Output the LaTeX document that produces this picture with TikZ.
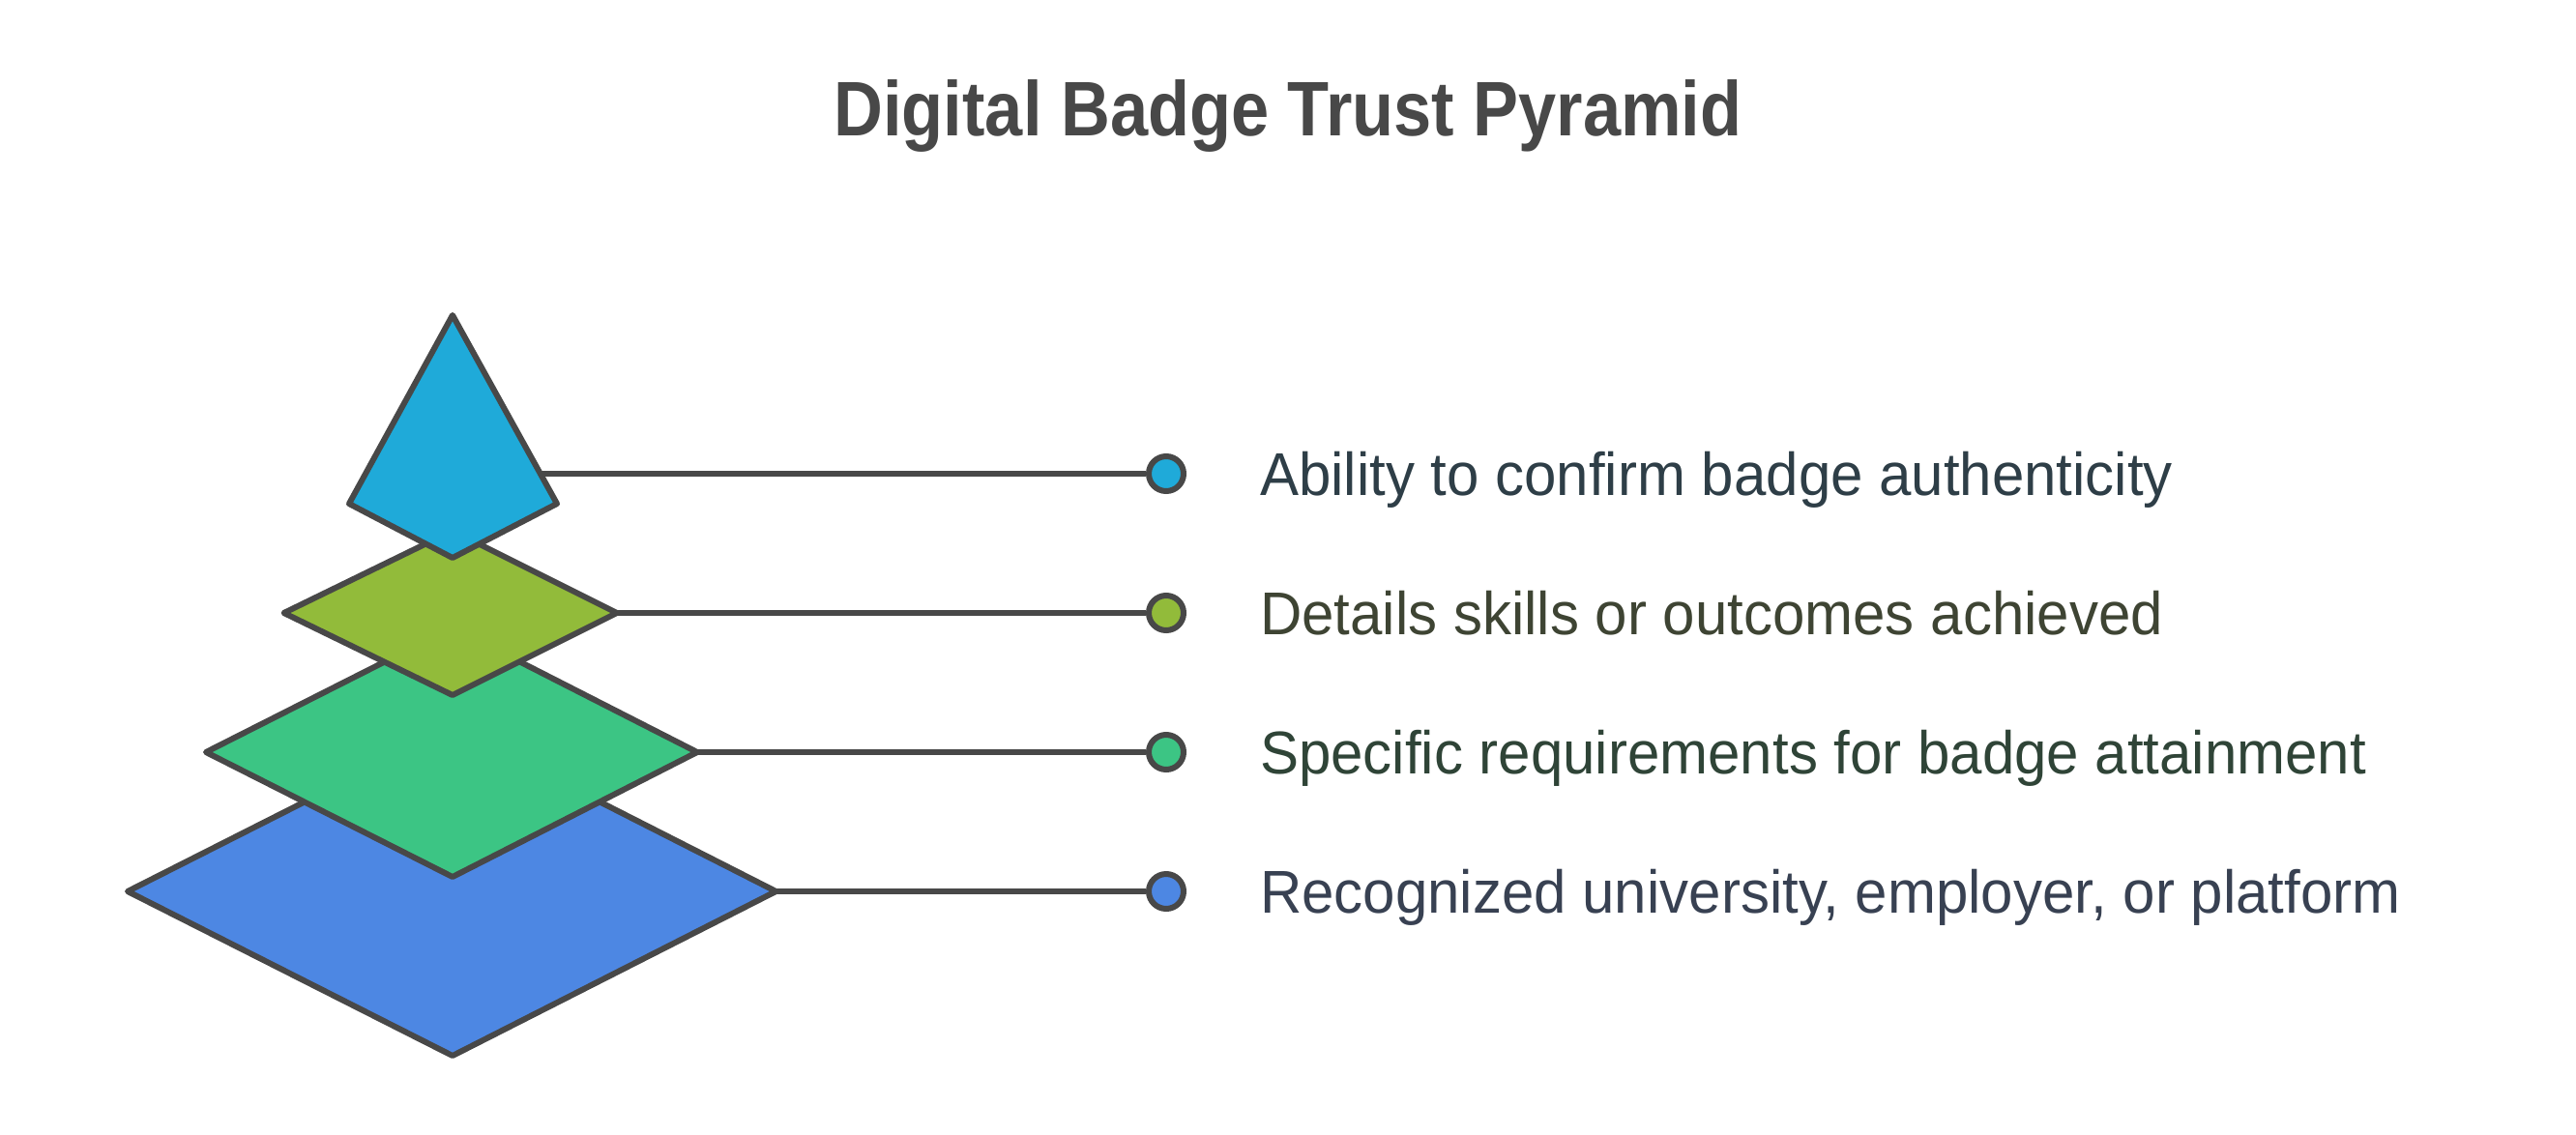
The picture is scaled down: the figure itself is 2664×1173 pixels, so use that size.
\documentclass[tikz,border=0pt]{standalone}
\usepackage{fontspec}
\setmainfont{Liberation Sans}
\newfontfamily\titlefont[FakeStretch=0.88]{Liberation Sans}
\newfontfamily\labelfont[FakeStretch=0.96]{Liberation Sans}
\definecolor{strokec}{HTML}{484848}
\definecolor{titlec}{HTML}{484848}
\definecolor{cyanf}{HTML}{1FAAD9}
\definecolor{olivef}{HTML}{92BB3A}
\definecolor{greenf}{HTML}{3CC584}
\definecolor{bluef}{HTML}{4D87E3}
\definecolor{t1}{HTML}{2E3E47}
\definecolor{t2}{HTML}{3E4433}
\definecolor{t3}{HTML}{2F4437}
\definecolor{t4}{HTML}{384152}
\tikzset{
  layer/.style={draw=strokec, line width=6pt, line join=round},
  conn/.style={draw=strokec, line width=6pt},
  dot/.style={circle, draw=strokec, line width=6pt, minimum size=36pt, inner sep=0pt},
  lbl/.style={anchor=base west, inner sep=0pt, font=\labelfont\fontsize{62.5}{70}\selectfont},
}
\begin{document}
\begin{tikzpicture}[x=1pt, y=-1pt]
\useasboundingbox (0,0) rectangle (2664,1173);
\node[anchor=base, inner sep=0pt, text=titlec, font=\titlefont\fontsize{80}{90}\selectfont\bfseries] (title) at (1332,140) {Digital Badge Trust Pyramid};
% layers
\fill[bluef, layer] (132,922) -- (468,752) -- (802.5,922) -- (468,1092) -- cycle;
\fill[greenf, layer] (213,778) -- (468,649) -- (721,778) -- (468,907) -- cycle;
\fill[olivef, layer] (293.6,634) -- (468,549) -- (638,634) -- (468,719) -- cycle;
\fill[cyanf, layer] (468,326) -- (576,521) -- (468,577) -- (361,521) -- cycle;
\coordinate (s1) at (559,490);
\coordinate (s2) at (638,634);
\coordinate (s3) at (721,778);
\coordinate (s4) at (802.5,922);
\node[dot, fill=cyanf] (d1) at (1206,490) {};
\node[dot, fill=olivef] (d2) at (1206,634) {};
\node[dot, fill=greenf] (d3) at (1206,778) {};
\node[dot, fill=bluef] (d4) at (1206,922) {};
\draw[conn] (s1) -- (d1.west);
\draw[conn] (s2) -- (d2.west);
\draw[conn] (s3) -- (d3.west);
\draw[conn] (s4) -- (d4.west);
\node[lbl, text=t1] (l1) at (1303,512) {Ability to confirm badge authenticity};
\node[lbl, text=t2] (l2) at (1303,656) {Details skills or outcomes achieved};
\node[lbl, text=t3] (l3) at (1303,800) {Specific requirements for badge attainment};
\node[lbl, text=t4] (l4) at (1303,944) {Recognized university, employer, or platform};
\end{tikzpicture}
\end{document}
